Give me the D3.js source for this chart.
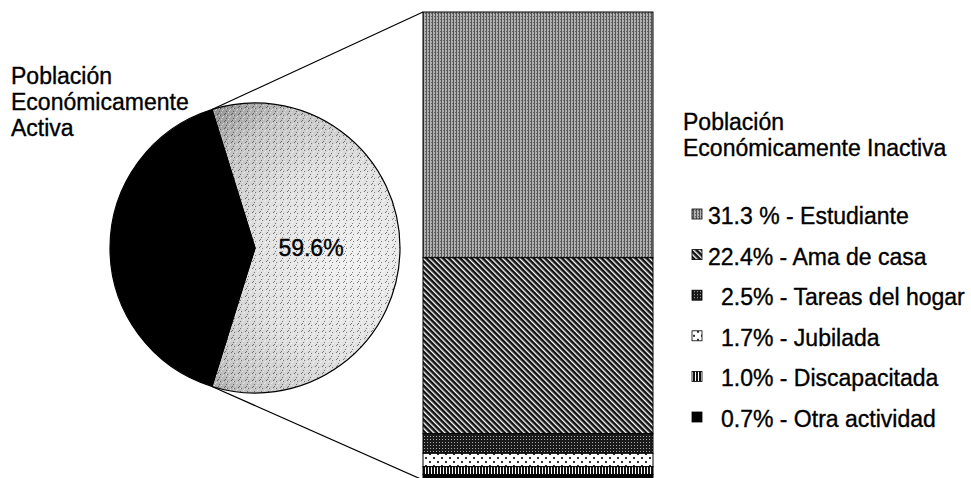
<!DOCTYPE html>
<html lang="es">
<head>
<meta charset="UTF-8">
<title>Población económicamente activa e inactiva</title>
<style>
  body { margin: 0; background: #fff; }
  svg { display: block; font-family: "Liberation Sans", Arial, sans-serif; }
  text { font-size: 23px; fill: #000; stroke: #000; stroke-width: 0.35px; }
</style>
</head>
<body>
<script src="https://d3js.org/d3.v7.min.js"></script>
<script>
// datos
var grupos = ["Población Económicamente Inactiva", "Población Económicamente Activa"];
var porcentajesPie = [59.6, 40.4];
var categorias = ["Estudiante", "Ama de casa", "Tareas del hogar", "Jubilada", "Discapacitada", "Otra actividad"];
var valores = [31.3, 22.4, 2.5, 1.7, 1.0, 0.7];
var etiquetas = ["31.3 %", "22.4%", "2.5%", "1.7%", "1.0%", "0.7%"];
var patrones = ["p-estudiante", "p-ama", "p-tareas", "p-jubilada", "p-disc", "p-otra"];

var width = 971, height = 478;
var cx = 255, cy = 248, radius = 145;
var barX = 423, barW = 230;

var svg = d3.select("body").append("svg")
    .attr("width", width)
    .attr("height", height);

var defs = svg.append("defs");

// sector claro: degradado con grano (coordenadas relativas al centro del pie)
var grad = defs.append("radialGradient")
    .attr("id", "g-inactiva")
    .attr("gradientUnits", "userSpaceOnUse")
    .attr("cx", 95).attr("cy", 15).attr("r", 215);
grad.append("stop").attr("offset", 0).attr("stop-color", "#f1f1f1");
grad.append("stop").attr("offset", 0.45).attr("stop-color", "#e0e0e0");
grad.append("stop").attr("offset", 0.75).attr("stop-color", "#c4c4c4");
grad.append("stop").attr("offset", 0.9).attr("stop-color", "#a0a0a0");
grad.append("stop").attr("offset", 1).attr("stop-color", "#858585");

function pattern(id, w, h, bg, draw) {
  var p = defs.append("pattern").attr("id", id)
      .attr("patternUnits", "userSpaceOnUse")
      .attr("width", w).attr("height", h);
  if (bg) p.append("rect").attr("width", w).attr("height", h).attr("fill", bg);
  draw(p);
  return p;
}

// grano: puntos sueltos sobre el degradado
var grano = [[0, 0], [3, 1], [6, 3], [1, 4], [4, 6], [2, 2], [5, 5], [6, 0]];
pattern("p-grano", 7, 7, null, function(p) {
  grano.forEach(function(g, i) {
    p.append("rect").attr("x", g[0]).attr("y", g[1]).attr("width", 1).attr("height", 1)
      .attr("fill", i % 2 ? "#ffffff" : "#222");
  });
});

pattern("p-estudiante", 3, 3, "#b0b0b0", function(p) {
  p.append("rect").attr("x", 0).attr("y", 0).attr("width", 1).attr("height", 3).attr("fill", "#555");
  p.append("rect").attr("x", 2).attr("y", 1).attr("width", 1).attr("height", 1).attr("fill", "#666");
});
pattern("p-ama", 4, 4, "#ffffff", function(p) {
  p.attr("patternTransform", "rotate(45)");
  p.append("rect").attr("x", 0).attr("y", 0).attr("width", 4).attr("height", 2.6).attr("fill", "#111");
});
pattern("p-tareas", 3, 3, "#1a1a1a", function(p) {
  p.append("rect").attr("x", 1).attr("y", 1).attr("width", 1).attr("height", 1).attr("fill", "#aaa");
});
pattern("p-jubilada", 8, 8, "#ffffff", function(p) {
  p.append("rect").attr("x", 1).attr("y", 1).attr("width", 2).attr("height", 2).attr("fill", "#333");
  p.append("rect").attr("x", 5).attr("y", 5).attr("width", 2).attr("height", 2).attr("fill", "#333");
});
pattern("p-disc", 3, 3, "#ffffff", function(p) {
  p.append("rect").attr("x", 0).attr("y", 0).attr("width", 2).attr("height", 3).attr("fill", "#111");
});
pattern("p-otra", 4, 4, "#000", function() {});

// pie
var pie = d3.pie().sort(null)
    .startAngle(Math.PI / 2 - Math.PI * porcentajesPie[0] / 100)
    .endAngle(Math.PI / 2 - Math.PI * porcentajesPie[0] / 100 + 2 * Math.PI);
var arcs = pie(porcentajesPie);
var arc = d3.arc().innerRadius(0).outerRadius(radius);

var gPie = svg.append("g").attr("transform", "translate(" + cx + "," + cy + ")");

gPie.selectAll("path.slice")
  .data(arcs)
  .join("path")
    .attr("class", "slice")
    .attr("d", arc)
    .attr("fill", function(d, i) { return i === 0 ? "url(#g-inactiva)" : "#000"; });

gPie.append("path")
    .attr("d", arc(arcs[0]))
    .attr("fill", "url(#p-grano)")
    .attr("opacity", 0.55);

gPie.selectAll("path.edge")
  .data(arcs)
  .join("path")
    .attr("class", "edge")
    .attr("d", arc)
    .attr("fill", "none")
    .attr("stroke", "#000")
    .attr("stroke-width", 1.2);

var labelArc = d3.arc().innerRadius(56).outerRadius(56);
gPie.append("text")
    .attr("transform", "translate(" + labelArc.centroid(arcs[0]) + ")")
    .attr("text-anchor", "middle")
    .attr("dy", "0.36em")
    .text(d3.format(".1f")(porcentajesPie[0]) + "%");

// barra apilada
var y = d3.scaleLinear()
    .domain([0, d3.sum(valores)])
    .range([12, 480]);

var stacked = [];
var acc = 0;
valores.forEach(function(v, i) {
  stacked.push({ y0: acc, y1: acc + v, pat: patrones[i] });
  acc += v;
});

svg.append("g").selectAll("rect")
  .data(stacked)
  .join("rect")
    .attr("x", barX)
    .attr("y", function(d) { return y(d.y0); })
    .attr("width", barW)
    .attr("height", function(d) { return y(d.y1) - y(d.y0); })
    .attr("fill", function(d) { return "url(#" + d.pat + ")"; })
    .attr("stroke", "#000")
    .attr("stroke-width", 1);

// líneas de conexión
var a0 = arcs[0].startAngle, a1 = arcs[0].endAngle;
var topPt = [cx + radius * Math.sin(a0), cy - radius * Math.cos(a0)];
var botPt = [cx + radius * Math.sin(a1), cy - radius * Math.cos(a1)];
svg.append("line")
    .attr("x1", topPt[0]).attr("y1", topPt[1])
    .attr("x2", barX).attr("y2", y(0))
    .attr("stroke", "#000").attr("stroke-width", 1.2);
svg.append("line")
    .attr("x1", botPt[0]).attr("y1", botPt[1])
    .attr("x2", barX).attr("y2", y(d3.sum(valores)))
    .attr("stroke", "#000").attr("stroke-width", 1.2);

// etiqueta del sector activo
var activa = svg.append("text").attr("x", 11).attr("y", 84);
["Población", "Económicamente", "Activa"].forEach(function(t, i) {
  activa.append("tspan").attr("x", 11).attr("dy", i === 0 ? 0 : 26).text(t);
});

// leyenda
var titulo = svg.append("text").attr("x", 683).attr("y", 130);
titulo.append("tspan").attr("x", 683).text("Población");
titulo.append("tspan").attr("x", 683).attr("dy", 26).text("Económicamente Inactiva");

var leg = svg.append("g").selectAll("g")
  .data(categorias)
  .join("g")
    .attr("transform", function(d, i) { return "translate(0," + (224 + i * 40.6) + ")"; });

leg.append("rect")
    .attr("x", 692).attr("y", -15)
    .attr("width", 10).attr("height", 10)
    .attr("fill", function(d, i) { return "url(#" + patrones[i] + ")"; })
    .attr("stroke", "#000").attr("stroke-width", 0.8);

leg.append("text")
    .attr("x", function(d, i) { return valores[i] >= 10 ? 708 : 721; })
    .text(function(d, i) { return etiquetas[i] + " - " + d; });
</script>
</body>
</html>
